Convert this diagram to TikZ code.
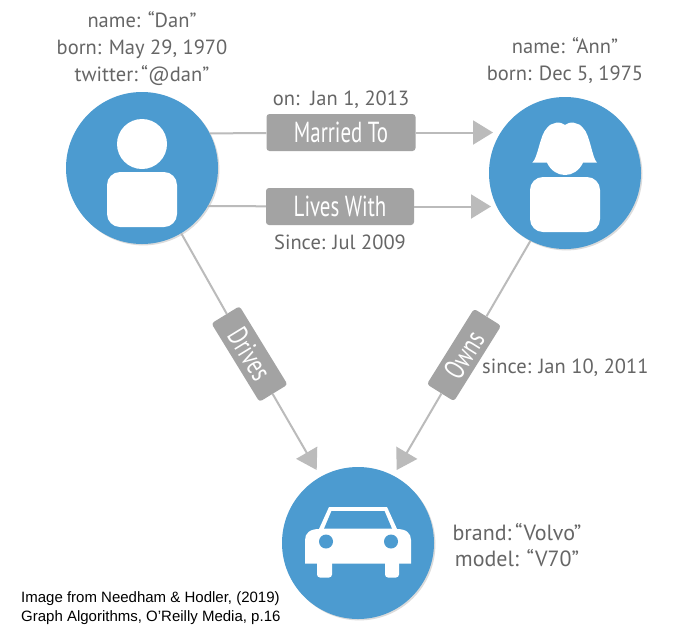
\documentclass[tikz,border=0pt]{standalone}
\usepackage{fontspec}
\setmainfont{PT Sans}
\newfontfamily\condfont[FakeStretch=0.72]{PT Sans}
\newfontfamily\capfont{Liberation Sans}
\usetikzlibrary{arrows.meta,shadows}
\definecolor{nodeblue}{HTML}{4C9BD0}
\definecolor{boxgray}{HTML}{A3A3A3}
\definecolor{linegray}{HTML}{BBBBBB}
\definecolor{textgray}{HTML}{666666}
\tikzset{
  entity/.style={circle,fill=nodeblue,minimum size=152pt,inner sep=0pt,
    drop shadow={shadow xshift=1.4pt,shadow yshift=-1.4pt,fill=black,opacity=.14}},
  relbox/.style={fill=boxgray,rounded corners=3pt,text=white,inner sep=0pt,
    font=\condfont\fontsize{29}{30}\selectfont},
  prop/.style={text=textgray,align=center,inner sep=0pt,
    font=\fontsize{20.5}{26.6}\selectfont},
  conn/.style={draw=linegray,line width=2pt},
  arrowconn/.style={conn,-{Triangle[length=20pt,width=24pt]}},
  credit/.style={anchor=west,align=left,inner sep=0pt,text=black,
    font=\capfont\fontsize{15}{19}\selectfont},
  icon/.style={fill=white}
}
\begin{document}
\begin{tikzpicture}[x=1pt,y=-1pt]
\useasboundingbox (0,0) rectangle (700,635);
\fill[white] (0,0) rectangle (700,635);

% entities
\node[entity] (dan) at (142,168) {};
\node[entity] (ann) at (565,173) {};
\node[entity] (car) at (358,543) {};

% relationship labels
\node[relbox,minimum width=149pt,minimum height=37pt] (married) at (341,132.5) {Married To};
\node[relbox,minimum width=148pt,minimum height=37pt] (lives) at (340,206.5) {Lives With};
\node[relbox,minimum width=92pt,minimum height=33pt,rotate=-58.5] (drives) at (249.5,354) {Drives};
\node[relbox,minimum width=89pt,minimum height=32pt,rotate=58] (owns) at (464,355) {Owns};

% arrow end points
\coordinate (mtip) at (493,132.5);
\coordinate (ltip) at (491,206.5);
\coordinate (dtip) at (316.7,470);
\coordinate (otip) at (396.7,470);

% connectors
\draw[conn] (dan.27) -- (married);
\draw[arrowconn] (married) -- (mtip);
\draw[conn] (dan.-30.9) -- (lives);
\draw[arrowconn] (lives) -- (ltip);
\draw[conn] (dan.-59.6) -- (drives);
\draw[arrowconn] (drives) -- (dtip);
\draw[conn] (ann.-117) -- (owns);
\draw[arrowconn] (owns) -- (otip);

% Dan icon
\fill[icon] (142,144) circle (25);
\fill[icon,rounded corners=13pt] (107,172) rectangle (177,227);

% Ann icon
\fill[icon,rounded corners=13pt] (530,177) rectangle (600,232);
\fill[icon] (532.3,162.7)
  .. controls (538,158) and (540,134) .. (547,128)
  .. controls (551,122) and (561,121) .. (565,125)
  .. controls (569,121) and (579,122) .. (583,128)
  .. controls (590,134) and (592,158) .. (597,162.7)
  -- (583,162.7)
  .. controls (579,171) and (572,175) .. (565,175)
  .. controls (558,175) and (551,171) .. (547,162.7)
  -- cycle;

% car icon
\fill[icon,rounded corners=3pt] (317,558) rectangle (332,577.5);
\fill[icon,rounded corners=3pt] (385,558) rectangle (399,577.5);
\fill[icon] (305,563.5) -- (305,540)
  .. controls (305,533) and (310,529) .. (319,529)
  -- (329,507) -- (387,507) -- (397,529)
  .. controls (406,529) and (411,533) .. (411,540)
  -- (411,563.5) -- cycle;
\fill[nodeblue] (331.5,511) -- (384.5,511) -- (392,528.7) -- (324,528.7) -- cycle;
\fill[nodeblue] (326,541.5) circle (7);
\fill[nodeblue] (391,541.5) circle (7);

% properties
\node[prop] (danprops) at (142,48.5) {name: “Dan”\\born: May 29, 1970\\twitter:\,“@dan”};
\node[prop] (annprops) at (565,60.5) {name: “Ann”\\born: Dec 5, 1975};
\node[prop] (onprop) at (341,100) {on:\ \ Jan 1, 2013};
\node[prop] (sinceprop) at (340,242) {Since: Jul 2009};
\node[prop,anchor=west] (ownsprop) at (482,368) {since: Jan 10, 2011};
\node[prop,font=\fontsize{22}{26.6}\selectfont] (carprops) at (517,545) {brand:\,“Volvo”\\model: “V70”};

% credit
\node[credit] (creditnote) at (21,608.5) {Image from Needham \& Hodler, (2019)\\Graph Algorithms, O’Reilly Media, p.16};
\end{tikzpicture}
\end{document}
